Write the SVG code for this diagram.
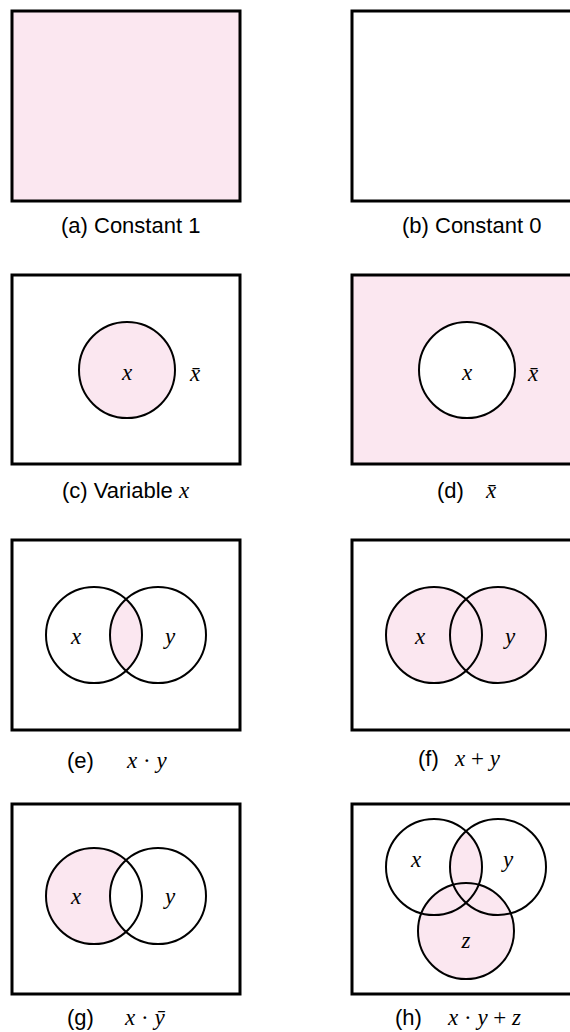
<svg xmlns="http://www.w3.org/2000/svg" width="570" height="1032" viewBox="0 0 570 1032">
<style>
.frame{stroke:#000;stroke-width:3}
.pink{fill:#fbe7f0}
.white{fill:#fff}
.ring{fill:none;stroke:#000;stroke-width:2}
.cap{font-family:"Liberation Sans",Arial,sans-serif;font-size:22px;fill:#000}
.m{font-family:"Liberation Serif","Times New Roman",serif;font-style:italic;font-size:23px;fill:#000}
.op{font-style:normal}
</style>
<defs>
<clipPath id="cy_e"><circle cx="158" cy="635" r="48"/></clipPath>
<clipPath id="cy_h"><circle cx="498" cy="867" r="48"/></clipPath>
</defs>
<rect width="570" height="1032" fill="#fff"/>

<g id="a">
<rect class="frame pink" x="12" y="11" width="228" height="190"/>
<text class="cap" x="61" y="233">(a) Constant 1</text>
</g>

<g id="b">
<rect class="frame white" x="352" y="11" width="228" height="190"/>
<text class="cap" x="402" y="233">(b) Constant 0</text>
</g>

<g id="c">
<rect class="frame white" x="12" y="275" width="228" height="189"/>
<circle class="pink" cx="127" cy="370" r="48"/>
<circle class="ring" cx="127" cy="370" r="48"/>
<text class="m" x="127" y="380" text-anchor="middle">x</text>
<text class="m" x="195" y="381" text-anchor="middle">x̄</text>
<text class="cap" x="62" y="498">(c) Variable <tspan class="m">x</tspan></text>
</g>

<g id="d">
<rect class="frame pink" x="352" y="275" width="228" height="189"/>
<circle class="white" cx="467" cy="370" r="48"/>
<circle class="ring" cx="467" cy="370" r="48"/>
<text class="m" x="467" y="380" text-anchor="middle">x</text>
<text class="m" x="533" y="381" text-anchor="middle">x̄</text>
<text class="cap" x="437" y="498">(d)</text>
<text class="m" x="486" y="498">x̄</text>
</g>

<g id="e">
<rect class="frame white" x="12" y="540" width="228" height="190"/>
<circle class="pink" cx="94" cy="635" r="48" clip-path="url(#cy_e)"/>
<circle class="ring" cx="94" cy="635" r="48"/>
<circle class="ring" cx="158" cy="635" r="48"/>
<text class="m" x="76" y="644" text-anchor="middle">x</text>
<text class="m" x="170" y="644" text-anchor="middle">y</text>
<text class="cap" x="67" y="768">(e)</text>
<text class="m" x="127" y="768">x <tspan class="op">·</tspan> y</text>
</g>

<g id="f">
<rect class="frame white" x="352" y="540" width="228" height="190"/>
<circle class="pink" cx="434" cy="635" r="48"/>
<circle class="pink" cx="498" cy="635" r="48"/>
<circle class="ring" cx="434" cy="635" r="48"/>
<circle class="ring" cx="498" cy="635" r="48"/>
<text class="m" x="420" y="644" text-anchor="middle">x</text>
<text class="m" x="510" y="644" text-anchor="middle">y</text>
<text class="cap" x="418" y="766">(f)</text>
<text class="m" x="455" y="766">x <tspan class="op">+</tspan> y</text>
</g>

<g id="g">
<rect class="frame white" x="12" y="804" width="228" height="190"/>
<circle class="pink" cx="94" cy="896" r="48"/>
<circle class="white" cx="158" cy="896" r="48"/>
<circle class="ring" cx="94" cy="896" r="48"/>
<circle class="ring" cx="158" cy="896" r="48"/>
<text class="m" x="76" y="904" text-anchor="middle">x</text>
<text class="m" x="170" y="904" text-anchor="middle">y</text>
<text class="cap" x="67" y="1025">(g)</text>
<text class="m" x="125" y="1025">x <tspan class="op">·</tspan> ȳ</text>
</g>

<g id="h">
<rect class="frame white" x="352" y="804" width="228" height="190"/>
<circle class="pink" cx="434" cy="867" r="48" clip-path="url(#cy_h)"/>
<circle class="pink" cx="466" cy="931" r="48"/>
<circle class="ring" cx="434" cy="867" r="48"/>
<circle class="ring" cx="498" cy="867" r="48"/>
<circle class="ring" cx="466" cy="931" r="48"/>
<text class="m" x="416" y="867" text-anchor="middle">x</text>
<text class="m" x="508" y="867" text-anchor="middle">y</text>
<text class="m" x="466" y="948" text-anchor="middle">z</text>
<text class="cap" x="395" y="1025">(h)</text>
<text class="m" x="448" y="1025">x <tspan class="op">·</tspan> y <tspan class="op">+</tspan> z</text>
</g>

<g id="connectors"></g>
</svg>
